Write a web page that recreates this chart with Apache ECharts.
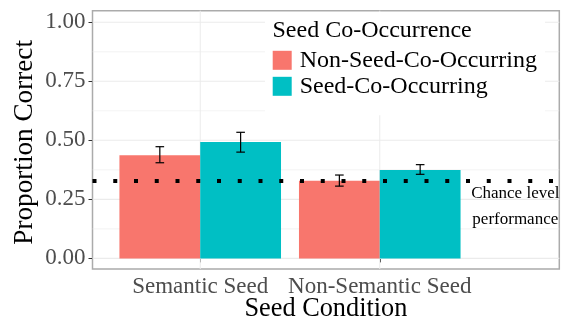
<!DOCTYPE html>
<html>
<head>
<meta charset="utf-8">
<script src="https://cdn.jsdelivr.net/npm/echarts@6/dist/echarts.min.js"></script>
<style>html,body{margin:0;padding:0;background:#fff}#c{width:561px;height:320px}</style>
</head>
<body>
<div id="c"></div>
<script>
// ---- data ----
const categories = ['Semantic Seed', 'Non-Semantic Seed'];
const seriesNames = ['Non-Seed-Co-Occurring', 'Seed-Co-Occurring'];
const nonSeedMeans = [0.437, 0.329];
const nonSeedLow = [0.405, 0.306];
const nonSeedHigh = [0.473, 0.353];
const seedMeans = [0.493, 0.374];
const seedLow = [0.450, 0.356];
const seedHigh = [0.534, 0.397];
const chanceLevel = 0.33;
const chanceLines = ['Chance level', 'performance'];
const chanceTextX = 2.755;
const chanceTextY = [0.273, 0.166];
const yTicks = [0, 0.25, 0.5, 0.75, 1];
const yMinorTicks = [0.125, 0.375, 0.625, 0.875];
const xTicks = [1, 2];

// ---- styles ----
const FONT = 'Liberation Serif';
const COLORS = ['#F8766D', '#00BFC4'];
const DODGE = 0.225, HALF = 0.225, WHISK = 0.024;

const chart = echarts.init(document.getElementById('c'), null, {renderer: 'canvas'});

function barSeries(name, means, off, color) {
  return {
    type: 'custom', name: name, z: 3,
    itemStyle: {color: color},
    data: means.map((v, i) => [i + 1, v]),
    renderItem: function (params, api) {
      const x = api.value(0), v = api.value(1);
      const p0 = api.coord([x + off - HALF, v]);
      const p1 = api.coord([x + off + HALF, 0]);
      return {type: 'rect', shape: {x: p0[0], y: p0[1], width: p1[0] - p0[0], height: p1[1] - p0[1]},
        style: {fill: color}};
    }
  };
}
function errSeries(low, high, off) {
  return {
    type: 'custom', z: 5, silent: true,
    data: low.map((l, i) => [i + 1, l, high[i]]),
    renderItem: function (params, api) {
      const x = api.value(0) + off;
      const a = api.coord([x, api.value(1)]);
      const b = api.coord([x, api.value(2)]);
      const wl = api.coord([x - WHISK, 0])[0], wr = api.coord([x + WHISK, 0])[0];
      const st = {stroke: '#000', lineWidth: 1.2};
      return {type: 'group', children: [
        {type: 'line', shape: {x1: a[0], y1: a[1], x2: b[0], y2: b[1]}, style: st},
        {type: 'line', shape: {x1: wl, y1: a[1], x2: wr, y2: a[1]}, style: st},
        {type: 'line', shape: {x1: wl, y1: b[1], x2: wr, y2: b[1]}, style: st}
      ]};
    }
  };
}
function hGridSeries(vals, width) {
  return {
    type: 'custom', z: 1, silent: true,
    data: vals.map(v => [1, v]),
    renderItem: function (params, api) {
      const cs = params.coordSys;
      const y = api.coord([1, api.value(1)])[1];
      return {type: 'line', shape: {x1: cs.x, y1: y, x2: cs.x + cs.width, y2: y},
        style: {stroke: '#EBEBEB', lineWidth: width}};
    }
  };
}
function vGridSeries(vals) {
  return {
    type: 'custom', z: 1, silent: true,
    data: vals.map(v => [v, 0]),
    renderItem: function (params, api) {
      const cs = params.coordSys;
      const x = api.coord([api.value(0), 0])[0];
      return {type: 'line', shape: {x1: x, y1: cs.y, x2: x, y2: cs.y + cs.height},
        style: {stroke: '#EBEBEB', lineWidth: 1}};
    }
  };
}

const option = {
  animation: false,
  backgroundColor: '#fff',
  grid: {left: 92.5, right: 1.7, top: 10.7, bottom: 51, show: true,
    outerBoundsMode: 'none', containLabel: false,
    borderColor: '#ABABAB', borderWidth: 1.5, backgroundColor: 'transparent'},
  title: {text: 'Seed Co-Occurrence', left: 272.5, top: 19, padding: 0,
    textStyle: {fontFamily: FONT, fontSize: 24, fontWeight: 'normal', color: '#000'}},
  legend: {
    orient: 'vertical', left: 265, top: 12, padding: [36.3, 8, 17, 7.7],
    backgroundColor: '#fff', itemWidth: 19, itemHeight: 19, itemGap: 2, icon: 'rect',
    data: [{name: seriesNames[0], itemStyle: {color: COLORS[0]}}, {name: seriesNames[1], itemStyle: {color: COLORS[1]}}],
    textStyle: {fontFamily: FONT, fontSize: 24, color: '#000', lineHeight: 19, padding: [0, 0, 0, 3]},
    selectedMode: false
  },
  xAxis: {
    type: 'value', min: 0.4, max: 3.0,
    axisLine: {show: false},
    splitLine: {show: false},
    axisTick: {show: true, customValues: xTicks, length: 4, lineStyle: {color: '#333', width: 1}},
    axisLabel: {customValues: xTicks, formatter: v => categories[Math.round(v) - 1] || '',
      fontFamily: FONT, fontSize: 23, color: '#4D4D4D', margin: 6},
    name: 'Seed Condition', nameLocation: 'middle', nameGap: 27.5, nameMoveOverlap: false,
    nameTextStyle: {fontFamily: FONT, fontSize: 26.3, color: '#000'}
  },
  yAxis: {
    type: 'value', min: -0.045, max: 1.049,
    axisLine: {show: false},
    splitLine: {show: false},
    axisTick: {show: true, customValues: yTicks, length: 4, lineStyle: {color: '#333', width: 1}},
    axisLabel: {customValues: yTicks, formatter: v => v.toFixed(2),
      fontFamily: FONT, fontSize: 23, color: '#4D4D4D', margin: 7},
    name: 'Proportion Correct', nameLocation: 'middle', nameGap: 54, nameMoveOverlap: false,
    nameTextStyle: {fontFamily: FONT, fontSize: 27.2, color: '#000', padding: [0, 5, 0, 0]}
  },
  series: [
    hGridSeries(yMinorTicks, 0.6),
    hGridSeries(yTicks, 1.1),
    vGridSeries(xTicks),
    barSeries(seriesNames[0], nonSeedMeans, -DODGE, COLORS[0]),
    barSeries(seriesNames[1], seedMeans, DODGE, COLORS[1]),
    errSeries(nonSeedLow, nonSeedHigh, -DODGE),
    errSeries(seedLow, seedHigh, DODGE),
    {
      type: 'custom', z: 6, silent: true,
      data: chanceLines.map((t, i) => [chanceTextX, chanceTextY[i]]),
      renderItem: function (params, api) {
        const p = api.coord([api.value(0), api.value(1)]);
        return {type: 'text', x: p[0], y: p[1],
          style: {text: chanceLines[params.dataIndex], fontFamily: FONT, fontSize: 17, fill: '#000',
            align: 'center', verticalAlign: 'middle'}};
      },
      markLine: {
        silent: true, symbol: 'none', z: 4,
        label: {show: false},
        lineStyle: {color: '#000', width: 4, type: [4, 16.75], cap: 'butt'},
        data: [{yAxis: chanceLevel}]
      }
    }
  ]
};
chart.setOption(option);
</script>
</body>
</html>
